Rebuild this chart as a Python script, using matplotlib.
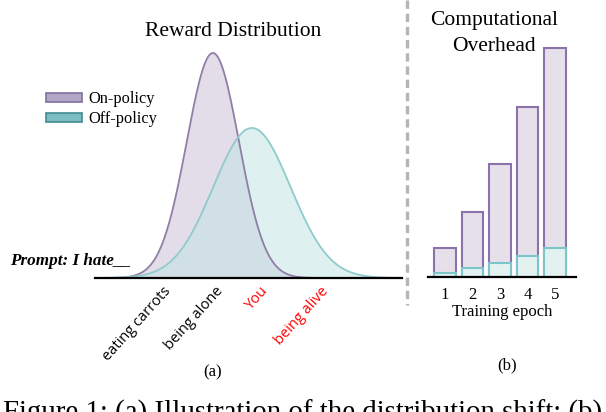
import numpy as np
import matplotlib
matplotlib.use("Agg")
import matplotlib.pyplot as plt
from matplotlib.patches import Patch

plt.rcParams['lines.scale_dashes'] = False

# ---- data ----
# (a) reward distributions (Gaussian shape params, arbitrary units)
onpolicy_mean, onpolicy_sd, onpolicy_peak = 3.84, 0.85, 0.90
offpolicy_mean, offpolicy_sd, offpolicy_peak = 5.11, 1.26, 0.60
completions = ["eating carrots", "being alone", "You", "being alive"]
completion_pos = [2.2, 3.9, 5.38, 7.33]
completion_colors = ["black", "black", "red", "red"]

# (b) computational overhead per training epoch
epochs = [1, 2, 3, 4, 5]
onpolicy_cost = [29, 65, 113, 170, 229]
offpolicy_cost = [4, 9, 14, 21, 29]

W, H = 606, 412
fig = plt.figure(figsize=(W / 100, H / 100), dpi=100)

def box(x0, y0, x1, y1):
    # pixel box (top-left origin) -> figure fraction rect
    return [x0 / W, 1 - y1 / H, (x1 - x0) / W, (y1 - y0) / H]

serif = "Liberation Serif"
PURPLE_FILL = "#c9bcd6"
PURPLE_EDGE = "#8f7fa6"
TEAL_FILL = "#c0e2e3"
TEAL_EDGE = "#8fcbcc"

# ---- panel (a) ----
ax1 = fig.add_axes(box(95, 28, 402, 278))
x = np.linspace(0, 10, 600)
y_on = onpolicy_peak * np.exp(-0.5 * ((x - onpolicy_mean) / onpolicy_sd) ** 2)
y_off = offpolicy_peak * np.exp(-0.5 * ((x - offpolicy_mean) / offpolicy_sd) ** 2)
ax1.fill_between(x, 0, y_on, color=PURPLE_FILL, alpha=0.5, lw=0)
ax1.fill_between(x, 0, y_off, color=TEAL_FILL, alpha=0.5, lw=0)
ax1.plot(x, y_on, color=PURPLE_EDGE, lw=1.3)
ax1.plot(x, y_off, color=TEAL_EDGE, lw=1.3)
ax1.set_xlim(0, 10)
ax1.set_ylim(0, 1)
for s in ["top", "right", "left"]:
    ax1.spines[s].set_visible(False)
ax1.spines["bottom"].set_linewidth(1.6)
ax1.set_yticks([])
ax1.set_xticks(completion_pos, completions, rotation=48, ha="right",
               rotation_mode="anchor", family="Open Sans", fontsize=10.5)
ax1.tick_params(axis="x", length=0, pad=4)
for lab, c in zip(ax1.get_xticklabels(), completion_colors):
    lab.set_color(c)
ax1.patch.set_alpha(0)

fig.text(233 / W, 1 - 31 / H, "Reward Distribution", family=serif,
         fontsize=15.5, ha="center", va="center")
fig.text(10 / W, 1 - 261 / H, "Prompt: I hate__", family=serif,
         fontsize=12.3, fontweight="bold", fontstyle="italic", ha="left", va="center")

handles = [Patch(facecolor="#b4a7c6", edgecolor="#8070a0", lw=1.2, label="On-policy"),
           Patch(facecolor="#7dbdc2", edgecolor="#3f8b90", lw=1.2, label="Off-policy")]
fig.legend(handles=handles, loc="upper left", bbox_to_anchor=(46 / W, 1 - 91 / H),
           frameon=False, prop={"family": serif, "size": 11.8},
           handlelength=2.2, handleheight=0.5, handletextpad=0.4, labelspacing=0.25,
           borderaxespad=0, borderpad=0)

fig.text(213 / W, 1 - 372 / H, "(a)", family=serif, fontsize=12, ha="center", va="center")

# ---- divider ----
fig.add_artist(plt.Line2D([407 / W, 407 / W], [1, 1 - 305 / H], transform=fig.transFigure,
                          color="#b5b5b5", lw=2.4, dashes=(6, 3.5)))

# ---- panel (b) ----
ax2 = fig.add_axes(box(428, 27, 576, 277))
ax2.bar(epochs, onpolicy_cost, width=0.78, color="#e6e0ea", edgecolor="#8c72aa", lw=1.5)
ax2.bar(epochs, offpolicy_cost, width=0.78, color="#e3f1f1", edgecolor="#7cc6c9", lw=1.5)
ax2.set_xlim(0.38, 5.76)
ax2.set_ylim(0, 250)
for s in ["top", "right", "left"]:
    ax2.spines[s].set_visible(False)
ax2.spines["bottom"].set_linewidth(1.6)
ax2.set_yticks([])
ax2.set_xticks(epochs, [str(e) for e in epochs], family=serif, fontsize=12)
ax2.tick_params(axis="x", length=0, pad=7)
ax2.set_xlabel("Training epoch", family=serif, fontsize=12, labelpad=1)
ax2.patch.set_alpha(0)

fig.text(494 / W, 1 - 33.5 / H, "Computational\nOverhead", family=serif, fontsize=15.5,
         ha="center", va="center", linespacing=1.5)
fig.text(507 / W, 1 - 365 / H, "(b)", family=serif, fontsize=12, ha="center", va="center")

# ---- caption (cut off at the bottom, as in the source) ----
fig.text(3 / W, 1 - 421 / H, "Figure 1: (a) Illustration of the distribution shift; (b)",
         family=serif, fontsize=20.8, ha="left", va="baseline")

fig.savefig("out.png", dpi=100)
